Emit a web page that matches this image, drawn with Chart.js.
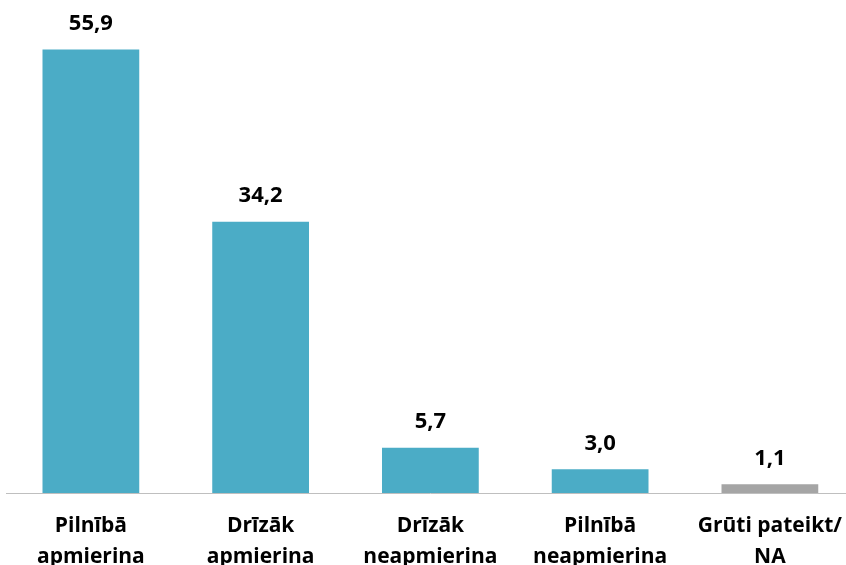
<!DOCTYPE html>
<html>
<head>
<meta charset="utf-8">
<script src="https://cdn.jsdelivr.net/npm/chart.js@4"></script>
<style>
  html, body { margin: 0; padding: 0; overflow: hidden; background: #fff; }
  #wrap { width: 860px; height: 600px; position: relative; }
</style>
</head>
<body>
<div id="wrap"><canvas id="chart"></canvas></div>
<script>
var categories = [['Pilnībā', 'apmierina'], ['Drīzāk', 'apmierina'], ['Drīzāk', 'neapmierina'], ['Pilnībā', 'neapmierina'], ['Grūti pateikt/', 'NA']];
var values = [55.9, 34.2, 5.7, 3.0, 1.1];
var barColors = ['#4BACC6', '#4BACC6', '#4BACC6', '#4BACC6', '#A5A5A5'];

var valueLabels = {
    id: 'valueLabels',
    afterDatasetsDraw: function(chart) {
        var ctx = chart.ctx;
        var meta = chart.getDatasetMeta(0);
        ctx.save();
        ctx.font = 'bold 22px "Open Sans", sans-serif';
        ctx.fillStyle = '#000';
        ctx.textAlign = 'center';
        ctx.textBaseline = 'middle';
        meta.data.forEach(function(bar, i) {
            ctx.fillText(values[i].toFixed(1).replace('.', ','), bar.x, bar.y - 26);
        });
        ctx.restore();
    }
};

new Chart(document.getElementById('chart'), {
    type: 'bar',
    data: {
        labels: categories,
        datasets: [{
            data: values,
            backgroundColor: barColors,
            borderWidth: 0,
            categoryPercentage: 1,
            barPercentage: 0.57
        }]
    },
    options: {
        responsive: true,
        maintainAspectRatio: false,
        animation: false,
        layout: { padding: { left: 6, right: 0, top: 17, bottom: 10 } },
        plugins: { legend: { display: false }, tooltip: { enabled: false } },
        scales: {
            y: { display: false, min: 0, max: 60 },
            x: {
                grid: { display: false, drawTicks: false },
                border: { color: '#BFBFBF', width: 1 },
                ticks: {
                    color: '#000',
                    padding: 18,
                    maxRotation: 0,
                    font: { family: '"Open Sans", sans-serif', size: 21, weight: 'bold', lineHeight: 1.45 }
                }
            }
        }
    },
    plugins: [valueLabels]
});
</script>
</body>
</html>
